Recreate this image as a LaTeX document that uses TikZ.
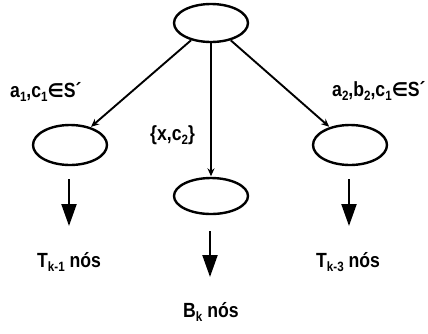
\documentclass[tikz,border=0pt]{standalone}
\usepackage{fontspec}
\setmainfont{Liberation Sans}[FakeStretch=0.86]
\newfontfamily\symfont{DejaVu Sans}[FakeStretch=0.95]
\usetikzlibrary{arrows.meta,shapes.geometric}
\newcommand\lowsub[1]{\raisebox{-0.45ex}{\fontsize{13.5}{13.5}\selectfont #1}}
\newcommand\elem{{\symfont\fontsize{19}{19}\selectfont ∈}}
\tikzset{
  oval/.style={draw, line width=2.4pt, ellipse, minimum width=74pt, minimum height=38pt, inner sep=0pt},
  edge/.style={line width=1.9pt, -{Stealth[length=8pt,width=7pt]}, shorten >=0.5pt},
  bigarrow/.style={line width=2.2pt, -{Triangle[length=22pt,width=15pt]}},
  lbl/.style={anchor=base west, inner sep=0pt, font=\bfseries\fontsize{20.5}{20.5}\selectfont}
}
\begin{document}
\begin{tikzpicture}[x=1pt,y=-1pt]
\useasboundingbox (0,0) rectangle (428,333);
\node[oval] (top) at (211,23) {};
\node[oval, minimum height=40pt] (l) at (70,145) {};
\node[oval, minimum height=40pt] (r) at (350,145) {};
\node[oval, minimum height=36pt] (m) at (211,196) {};
\draw[edge] (top) -- (l);
\draw[edge] (top) -- (r);
\draw[edge] (top) -- (m);
\node[lbl] (la) at (10,97) {a\lowsub{1},c\lowsub{1}\elem S´};
\node[lbl] (ra) at (332,96) {a\lowsub{2},b\lowsub{2},c\lowsub{1}\elem S´};
\node[lbl] (ma) at (150,140) {\{x,c\lowsub{2}\}};
\coordinate (l1) at (69,179);
\coordinate (l2) at (69,226);
\coordinate (r1) at (349,179);
\coordinate (r2) at (349,226);
\coordinate (m1) at (210,231);
\coordinate (m2) at (210,277);
\draw[bigarrow] (l1) -- (l2);
\draw[bigarrow] (r1) -- (r2);
\draw[bigarrow] (m1) -- (m2);
\node[lbl] (tl) at (37,267) {T\lowsub{k-1} nós};
\node[lbl] (tr) at (316,267) {T\lowsub{k-3} nós};
\node[lbl] (bk) at (183,317) {B\lowsub{k} nós};
\end{tikzpicture}
\end{document}
